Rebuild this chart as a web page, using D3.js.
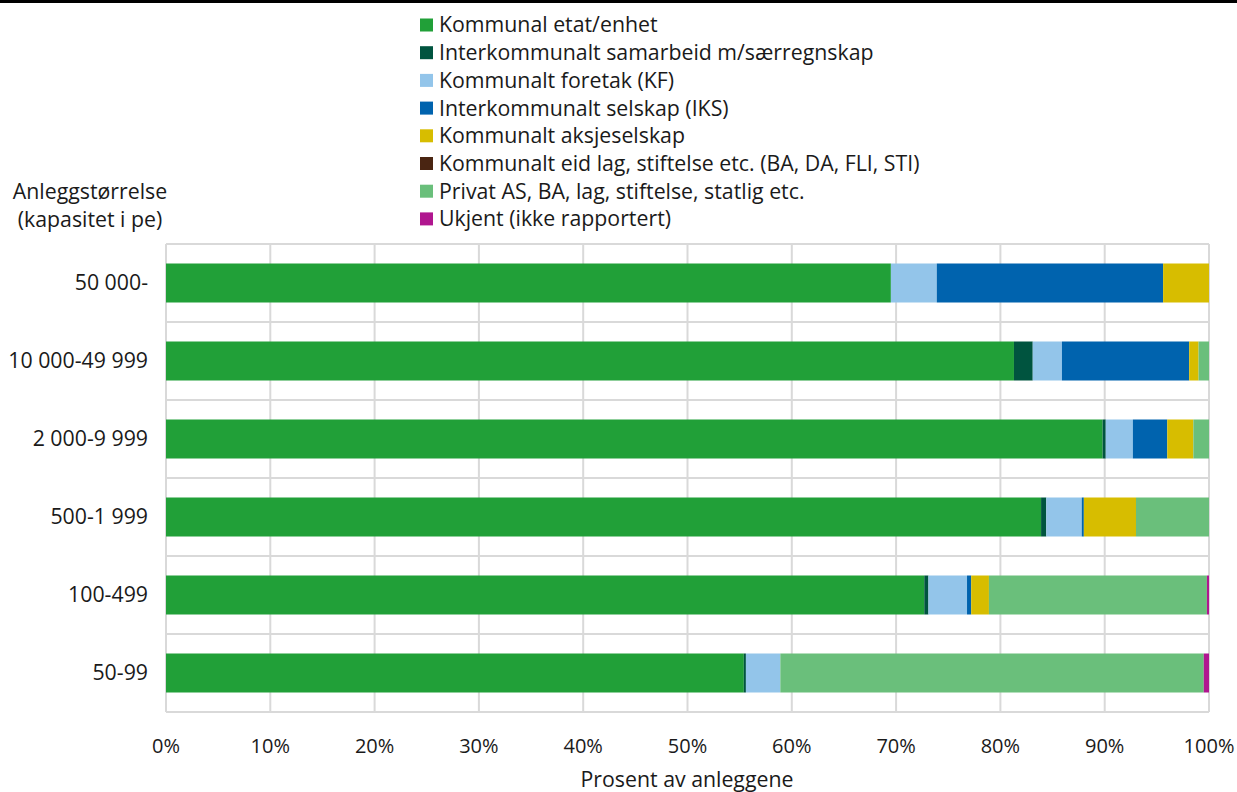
<!DOCTYPE html>
<html><head><meta charset="utf-8">
<script src="https://cdn.jsdelivr.net/npm/d3@7"></script>
<style>body{margin:0;background:#fff;font-family:"Open Sans",sans-serif;}</style>
</head><body><svg id="c" width="1237" height="792"></svg>
<script>
const categories = ["50 000-", "10 000-49 999", "2 000-9 999", "500-1 999", "100-499", "50-99"];
const seriesNames = ["Kommunal etat/enhet","Interkommunalt samarbeid m/særregnskap","Kommunalt foretak (KF)","Interkommunalt selskap (IKS)","Kommunalt aksjeselskap","Kommunalt eid lag, stiftelse etc. (BA, DA, FLI, STI)","Privat AS, BA, lag, stiftelse, statlig etc.","Ukjent (ikke rapportert)"];
const colors = ["#21a038","#00543f","#93c5ea","#0063ae","#d7bd00","#4a2512","#6abf7b","#b0168f"];
const kommunal   = [69.5, 81.3, 89.8, 83.9, 72.7, 55.4];
const interSam   = [0.0, 1.8, 0.3, 0.5, 0.4, 0.2];
const foretak    = [4.4, 2.8, 2.6, 3.4, 3.7, 3.3];
const iks        = [21.7, 12.2, 3.3, 0.2, 0.4, 0.0];
const aksje      = [4.4, 0.9, 2.5, 5.0, 1.7, 0.0];
const eidLag     = [0, 0, 0, 0, 0, 0];
const privat     = [0.0, 1.0, 1.5, 7.0, 20.9, 40.6];
const ukjent     = [0, 0, 0, 0, 0.2, 0.5];
const xTicks = [0,10,20,30,40,50,60,70,80,90,100];

const series = [kommunal, interSam, foretak, iks, aksje, eidLag, privat, ukjent];
const rows = categories.map((c,i)=>{const o={cat:c}; series.forEach((s,j)=>o["s"+j]=s[i]); return o;});
const keys = series.map((_,j)=>"s"+j);
const stack = d3.stack().keys(keys)(rows);

const svg = d3.select("#c");
const m = {left:166, right:1209, top:244, bottom:712};
const x = d3.scaleLinear().domain([0,100]).range([m.left, m.right]);
const y = d3.scaleBand().domain(categories).range([m.top, m.bottom]).paddingInner(0.5).paddingOuter(0.25);
const yb = d3.scaleBand().domain(categories).range([m.top, m.bottom]);

svg.append("rect").attr("x",0).attr("y",0).attr("width",1237).attr("height",3).attr("fill","#000");

const grid = svg.append("g").attr("stroke","#d9d9d9").attr("stroke-width",2);
xTicks.forEach(t=>grid.append("line").attr("x1",x(t)).attr("x2",x(t)).attr("y1",m.top).attr("y2",m.bottom));
categories.forEach(c=>grid.append("line").attr("x1",m.left).attr("x2",m.right).attr("y1",yb(c)).attr("y2",yb(c)));
grid.append("line").attr("x1",m.left).attr("x2",m.right).attr("y1",m.bottom).attr("y2",m.bottom);

stack.forEach((layer,j)=>{
  svg.append("g").attr("fill",colors[j]).selectAll("rect").data(layer).join("rect")
    .attr("x",d=>x(d[0])).attr("width",d=>Math.max(0,x(d[1])-x(d[0])))
    .attr("y",d=>y(d.data.cat)).attr("height",y.bandwidth());
});

const tc = "#1a1a1a";
const fs = 21.3;
svg.append("g").selectAll("text").data(categories).join("text")
  .attr("x",148).attr("y",d=>y(d)+y.bandwidth()/2).attr("dy","0.35em").attr("text-anchor","end")
  .attr("font-size",fs).attr("fill",tc).text(d=>d);
svg.append("g").selectAll("text").data(xTicks).join("text")
  .attr("x",d=>x(d)).attr("y",753).attr("text-anchor","middle")
  .attr("font-size",20).attr("fill",tc).text(d=>d+"%");
svg.append("text").attr("x",687).attr("y",787).attr("text-anchor","middle").attr("font-size",fs).attr("fill",tc).text("Prosent av anleggene");
svg.append("text").attr("x",90).attr("y",199).attr("text-anchor","middle").attr("font-size",fs).attr("fill",tc).text("Anleggstørrelse");
svg.append("text").attr("x",90).attr("y",227).attr("text-anchor","middle").attr("font-size",fs).attr("fill",tc).text("(kapasitet i pe)");

const lg = svg.append("g");
seriesNames.forEach((n,i)=>{
  const yy = 25 + i*27.7;
  lg.append("rect").attr("x",420).attr("y",yy-6.5).attr("width",13).attr("height",13).attr("fill",colors[i]);
  lg.append("text").attr("x",439).attr("y",yy).attr("dy","0.35em").attr("font-size",fs).attr("fill",tc).text(n);
});
</script></body></html>
